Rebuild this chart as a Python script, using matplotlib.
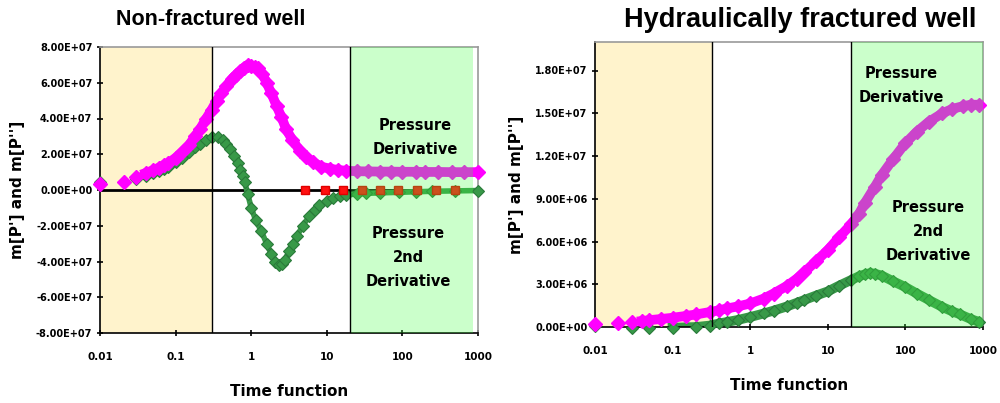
import numpy as np
import matplotlib
matplotlib.use("Agg")
import matplotlib.pyplot as plt
from matplotlib.ticker import FixedLocator, FuncFormatter

# Non-fractured well
t_nf_pd = [0.01, 0.021, 0.03, 0.04, 0.05, 0.06, 0.07, 0.08, 0.1, 0.12, 0.15, 0.18,
           0.21, 0.25, 0.3, 0.35, 0.4, 0.47, 0.55, 0.63, 0.71, 0.8, 0.9, 1.0, 1.12,
           1.24, 1.4, 1.6, 1.85, 2.17, 2.5, 2.9, 3.5, 4.4, 5.3, 6.6, 8.5, 10.9, 14,
           18, 25, 35, 50, 70, 100, 150, 200, 300, 450, 650, 1000]
pd_nf = [0.34, 0.47, 0.75, 0.95, 1.1, 1.25, 1.4, 1.5, 1.8, 2.1, 2.5, 3.0,
         3.4, 3.95, 4.5, 5.0, 5.4, 5.8, 6.2, 6.45, 6.65, 6.85, 7.0, 6.95, 6.9,
         6.8, 6.5, 6.0, 5.4, 4.7, 4.1, 3.4, 2.8, 2.2, 1.85, 1.55, 1.3, 1.2, 1.12,
         1.08, 1.05, 1.04, 1.03, 1.03, 1.02, 1.02, 1.01, 1.01, 1.0, 1.0, 1.0]
t_nf_p2 = [0.01, 0.03, 0.04, 0.05, 0.06, 0.07, 0.08, 0.1, 0.12, 0.15, 0.18, 0.21,
           0.25, 0.3, 0.36, 0.42, 0.47, 0.53, 0.6, 0.66, 0.71, 0.77, 0.82, 0.9, 1.0,
           1.15, 1.36, 1.6, 1.85, 2.05, 2.3, 2.55, 2.8, 3.2, 3.6, 4.0, 4.8, 5.9, 7.0,
           8.0, 10, 12, 15, 18, 25, 33, 50, 91, 150, 250, 500, 1000]
p2_nf = [0.47, 0.6, 0.8, 0.95, 1.05, 1.15, 1.3, 1.55, 1.8, 2.1, 2.4, 2.6,
         2.8, 2.95, 2.95, 2.8, 2.6, 2.3, 1.9, 1.5, 1.1, 0.8, 0.45, -0.22, -1.0,
         -1.7, -2.3, -3.0, -3.6, -4.0, -4.2, -4.15, -3.9, -3.4, -3.0, -2.6, -2.0, -1.45, -1.1,
         -0.85, -0.6, -0.47, -0.35, -0.28, -0.22, -0.19, -0.16, -0.13, -0.1, -0.07, -0.05, -0.03]
t_nf_red = [5.2, 9.4, 16.6, 28.8, 50, 87, 155, 282, 500]

# Hydraulically fractured well
t_hf_pd = [0.01, 0.02, 0.03, 0.04, 0.05, 0.07, 0.1, 0.15, 0.2, 0.3, 0.4, 0.5, 0.7,
           1, 1.5, 2, 3, 4, 5, 7, 10, 14, 20, 25, 30, 40, 50, 70, 100, 140, 200,
           300, 400, 550, 700, 900]
pd_hf = [0.2, 0.3, 0.35, 0.42, 0.48, 0.56, 0.65, 0.78, 0.88, 1.05, 1.18, 1.3, 1.45,
         1.65, 2.0, 2.35, 2.9, 3.4, 3.85, 4.6, 5.4, 6.3, 7.2, 7.9, 8.7, 9.8, 10.7,
         11.8, 12.9, 13.7, 14.4, 15.0, 15.3, 15.5, 15.6, 15.6]
t_hf_p2 = [0.01, 0.03, 0.05, 0.1, 0.2, 0.3, 0.4, 0.5, 0.7, 1, 1.5, 2, 3, 4, 5, 7,
           10, 14, 20, 25, 30, 35, 40, 50, 70, 100, 140, 200, 300, 400, 500, 700, 900]
p2_hf = [0.05, -0.1, -0.1, -0.05, 0.0, 0.1, 0.25, 0.35, 0.5, 0.7, 0.95, 1.15, 1.45,
         1.7, 1.9, 2.2, 2.5, 2.9, 3.3, 3.55, 3.7, 3.78, 3.75, 3.6, 3.2, 2.8, 2.35,
         1.9, 1.4, 1.1, 0.9, 0.55, 0.35]

titles = ["Non-fractured well", "Hydraulically fractured well"]
xticks = [0.01, 0.1, 1, 10, 100, 1000]
xticklabels = ["0.01", "0.1", "1", "10", "100", "1000"]

MAG = "#FF00FF"
GRN = "#389948"
GRN_EDGE = "#2A7A3A"
YEL = "#FFF3CC"
OVER = (66 / 255, 1.0, 66 / 255)

W, H = 1000, 403
fig = plt.figure(figsize=(W / 100, H / 100), dpi=100)


def px_axes(x0, y0, x1, y1):
    return fig.add_axes([x0 / W, 1 - y1 / H, (x1 - x0) / W, (y1 - y0) / H])


def style(ax, yticks):
    ax.set_xscale("log")
    ax.set_xlim(0.01, 1000)
    ax.xaxis.set_major_locator(FixedLocator(xticks))
    ax.set_xticklabels(xticklabels)
    ax.xaxis.set_minor_locator(FixedLocator([]))
    ax.yaxis.set_major_locator(FixedLocator(yticks))
    ax.yaxis.set_major_formatter(FuncFormatter(lambda v, p: "{:.2E}".format(v)))
    for s in ["top", "right"]:
        ax.spines[s].set_color("#999999")
        ax.spines[s].set_linewidth(1.2)
    for s in ["left", "bottom"]:
        ax.spines[s].set_color("black")
        ax.spines[s].set_linewidth(1.2)
    ax.tick_params(axis="y", direction="inout", length=5, width=1.2, pad=3,
                   labelsize=7)
    ax.tick_params(axis="x", direction="inout", length=5, width=1.2, pad=11,
                   labelsize=7.5)
    for lab in ax.get_xticklabels() + ax.get_yticklabels():
        lab.set_fontweight("bold")
    ax.set_xlabel("Time function", fontsize=11, fontweight="bold", labelpad=16)
    ax.set_ylabel("m[P'] and m[P'']", fontsize=11, fontweight="bold", labelpad=8)


def draw_series(ax, t_pd, y_pd, t_p2, y_p2, k_pd, k_p2, lw_p2):
    ax.plot(t_p2[k_p2:], y_p2[k_p2:], color=GRN, lw=lw_p2, zorder=2)
    ax.plot(t_p2, y_p2, ls="none", marker="D", ms=6.5, mfc=GRN, mec=GRN_EDGE,
            mew=0.8, zorder=3, clip_on=False)
    ax.plot(t_pd[k_pd:], y_pd[k_pd:], color=MAG, lw=7, zorder=4)
    ax.plot(t_pd, y_pd, ls="none", marker="D", ms=7.5, mfc=MAG, mec=MAG, zorder=5,
            clip_on=False)


# left chart
ax1 = px_axes(100, 47, 478, 333)
ax1.set_ylim(-8e7, 8e7)
ax1.axvspan(0.01, 0.3, color=YEL, zorder=0, lw=0)
ax1.axvspan(20, 850, color=OVER, alpha=0.27, zorder=7, lw=0)
ax1.axvline(0.3, color="black", lw=1, zorder=8)
ax1.axvline(20, color="black", lw=1, zorder=8)
ax1.axhline(0, color="black", lw=2, zorder=1)
draw_series(ax1, t_nf_pd, np.array(pd_nf) * 1e7, t_nf_p2, np.array(p2_nf) * 1e7, 3, 1, 4)
ax1.plot(t_nf_red, np.zeros(len(t_nf_red)), ls="none", marker="s", ms=6,
         mfc="#FF1010", mec="#E00000", zorder=6)
style(ax1, np.arange(-8e7, 8.1e7, 2e7))

# right chart
ax2 = px_axes(595, 42, 983, 327)
ax2.set_ylim(0, 2e7)
ax2.axvspan(0.01, 0.32, color=YEL, zorder=0, lw=0)
ax2.axvspan(20, 1000, color=OVER, alpha=0.27, zorder=7, lw=0)
ax2.axvline(0.32, color="black", lw=1, zorder=8)
ax2.axvline(20, color="black", lw=1, zorder=8)
draw_series(ax2, t_hf_pd, np.array(pd_hf) * 1e6, t_hf_p2, np.array(p2_hf) * 1e6, 3, 3, 7)
style(ax2, np.arange(0, 1.81e7, 3e6))

# titles
fig.text(211 / W, 1 - 25 / H, titles[0], ha="center", va="baseline",
         fontsize=15.5, fontweight="bold", family="Liberation Sans")
fig.text(800 / W, 1 - 27 / H, titles[1], ha="center", va="baseline",
         fontsize=19.5, fontweight="bold", family="Liberation Sans")

# annotations
def note(x, y, s):
    fig.text(x / W, 1 - y / H, s, ha="center", va="center", fontsize=10.5,
             fontweight="bold", linespacing=1.75, zorder=10)

note(415, 137, "Pressure\nDerivative")
note(408, 257, "Pressure\n2nd\nDerivative")
note(901, 86, "Pressure\nDerivative")
note(928, 232, "Pressure\n2nd\nDerivative")

fig.savefig("out.png", dpi=100)
